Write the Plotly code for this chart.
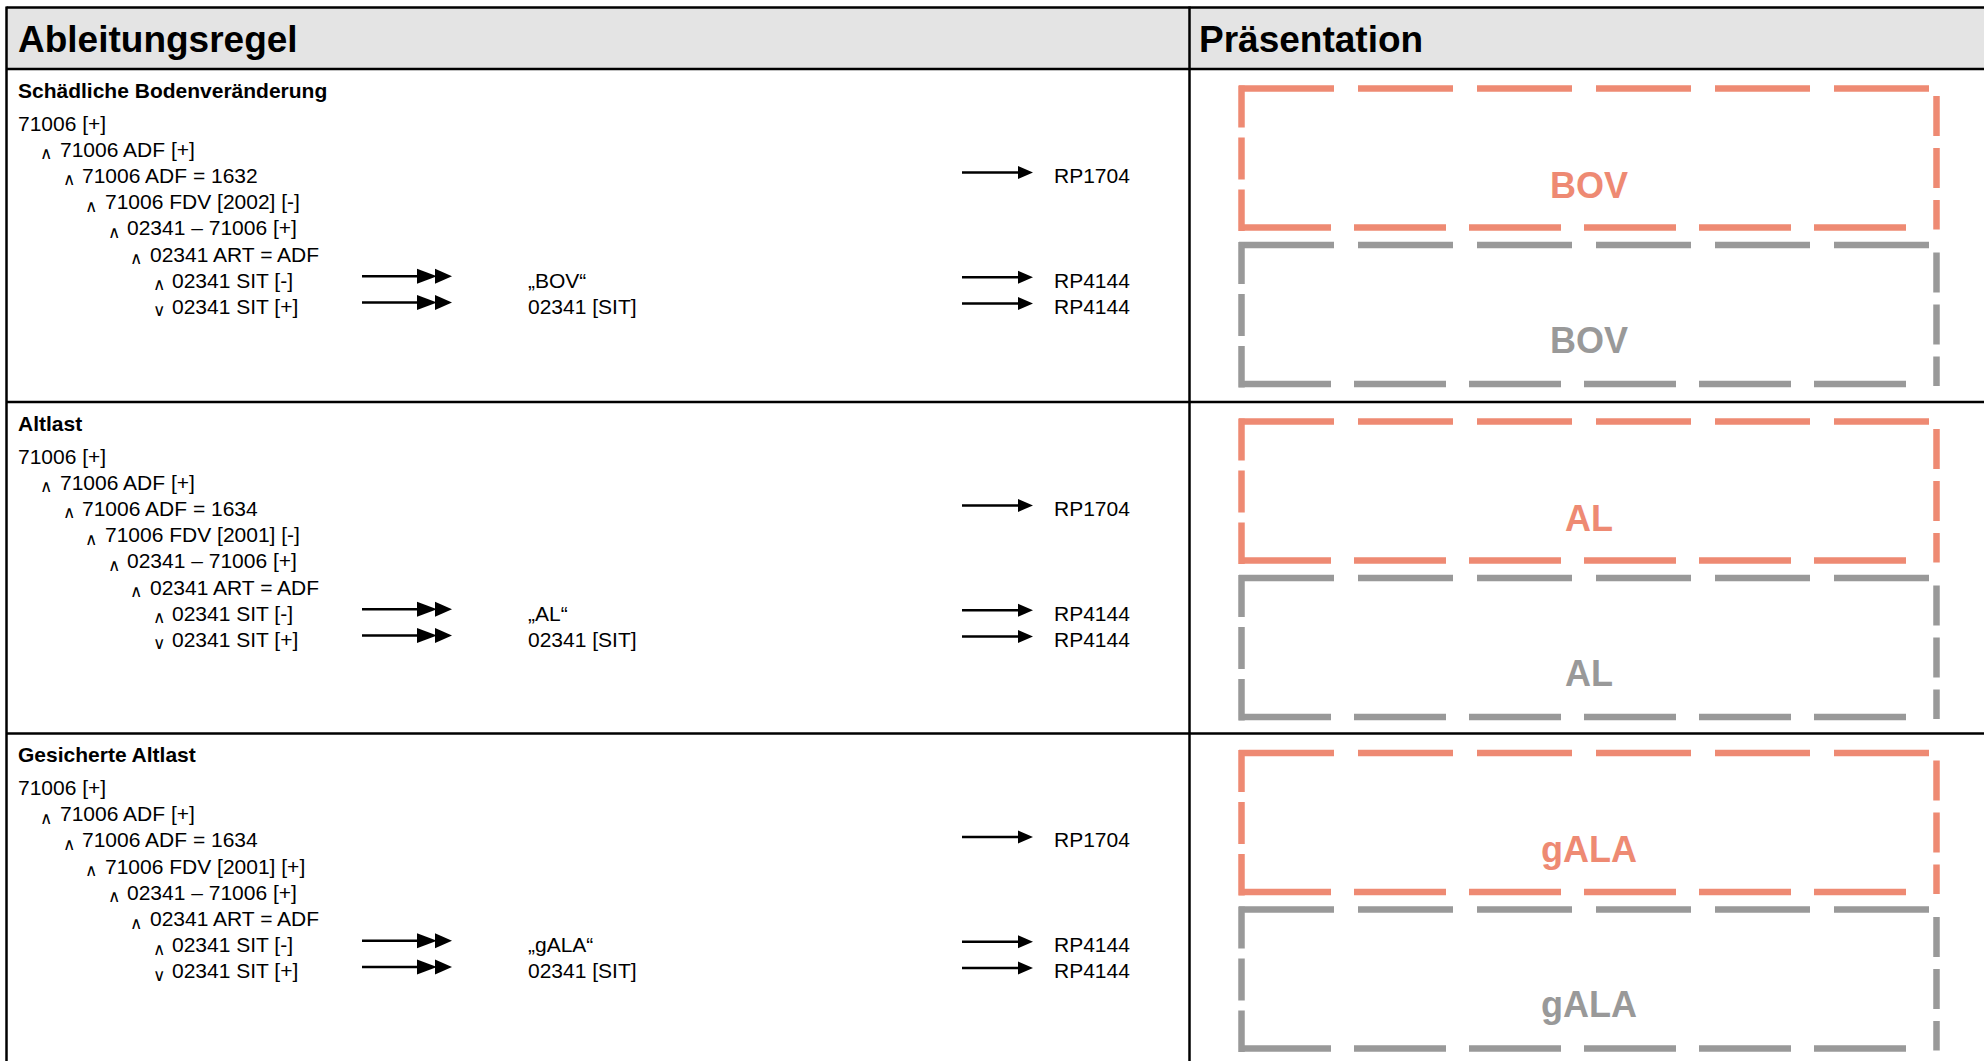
import plotly.graph_objects as go

# ---------------- data ----------------
section_titles = ["Schädliche Bodenveränderung", "Altlast", "Gesicherte Altlast"]
adf_values = ["1632", "1634", "1634"]
fdv_years = ["2002", "2001", "2001"]
fdv_flags = ["[-]", "[-]", "[+]"]
labels = ["BOV", "AL", "gALA"]

rule_levels = [0, 1, 2, 3, 4, 5, 6, 6]
rule_ops = ["", "∧", "∧", "∧", "∧", "∧", "∧", "∨"]
rule_templates = [
    "71006 [+]",
    "71006 ADF [+]",
    "71006 ADF = {adf}",
    "71006 FDV [{year}] {flag}",
    "02341 – 71006 [+]",
    "02341 ART = ADF",
    "02341 SIT [-]",
    "02341 SIT [+]",
]
rp_rows = [2, 6, 7]
rp_targets = ["RP1704", "RP4144", "RP4144"]
out_rows = [6, 7]
out_templates = ["„{label}“", "02341 [SIT]"]

header_left = "Ableitungsregel"
header_right = "Präsentation"

# ---------------- layout constants ----------------
W, H = 1984, 1061
FONT = "Liberation Sans, Arial, Helvetica, sans-serif"
ORANGE = "#EE8A73"
GRAY = "#999999"
LINE = "#000000"

x_left = 6.5
y_top = 7.5
y_head = 69
col_x = 1189.5
section_starts = [69, 402, 733.5]

title_off = 21
row0_off = 54
row_step = 26.2

x_text0 = 15.5
x_op1 = 38
op_gap = 19.5
indent = 22.5

fig = go.Figure()
shapes = []
ann = []

shapes.append(dict(type="rect", x0=x_left, x1=W + 5, y0=y_top, y1=y_head,
                   fillcolor="#E4E4E4", line=dict(width=0), layer="below"))


def hline(y, x0=x_left, x1=W + 5, w=2.5, color=LINE):
    shapes.append(dict(type="line", x0=x0, x1=x1, y0=y, y1=y, line=dict(color=color, width=w)))


def vline(x, y0, y1, w=2.5, color=LINE):
    shapes.append(dict(type="line", x0=x, x1=x, y0=y0, y1=y1, line=dict(color=color, width=w)))


hline(y_top)
hline(y_head)
for s in section_starts[1:]:
    hline(s)
vline(x_left, y_top - 1, H + 5)
vline(col_x, y_top - 1, H + 5)

ann.append(dict(x=x_text0, y=39, text=f"<b>{header_left}</b>", xanchor="left", yanchor="middle",
                showarrow=False, font=dict(family=FONT, size=37, color="black")))
ann.append(dict(x=1197, y=39, text=f"<b>{header_right}</b>", xanchor="left", yanchor="middle",
                showarrow=False, font=dict(family=FONT, size=37, color="black")))


def tri(x_base, x_tip, yc, half):
    return f"M {x_base},{yc - half} L {x_tip},{yc} L {x_base},{yc + half} Z"


def dashed_box(x0, x1, y0, y1, color):
    lw = 6.5
    shapes.append(dict(type="line", x0=x0 - 2.5, x1=x1 - 6.5, y0=y0, y1=y0,
                       line=dict(color=color, width=lw, dash="95px,24px")))
    shapes.append(dict(type="line", x0=x0 - 2.5, x1=x1 - 30, y0=y1, y1=y1,
                       line=dict(color=color, width=lw, dash="92px,23px")))
    shapes.append(dict(type="line", x0=x0, x1=x0, y0=y0 - 3, y1=y1 + 3.5,
                       line=dict(color=color, width=lw, dash="42px,10px")))
    shapes.append(dict(type="line", x0=x1, x1=x1, y0=y0 + 7.5, y1=y1 + 2,
                       line=dict(color=color, width=lw, dash="40px,12px")))


for i, s in enumerate(section_starts):
    ann.append(dict(x=x_text0, y=s + title_off, text=f"<b>{section_titles[i]}</b>",
                    xanchor="left", yanchor="middle", showarrow=False,
                    font=dict(family=FONT, size=21, color="black")))
    for r, (lvl, op, tpl) in enumerate(zip(rule_levels, rule_ops, rule_templates)):
        y = s + row0_off + r * row_step
        txt = tpl.format(adf=adf_values[i], year=fdv_years[i], flag=fdv_flags[i])
        if lvl == 0:
            x = x_text0
        else:
            xo = x_op1 + indent * (lvl - 1)
            ann.append(dict(x=xo, y=y + 4.5, text=op, xanchor="left", yanchor="middle", showarrow=False,
                            font=dict(family=FONT, size=17, color="black")))
            x = xo + op_gap
        ann.append(dict(x=x, y=y, text=txt, xanchor="left", yanchor="middle", showarrow=False,
                        font=dict(family=FONT, size=21, color="black")))
    for r, tpl in zip(out_rows, out_templates):
        y = s + row0_off + r * row_step
        ya = y - 4
        shapes.append(dict(type="line", x0=362, x1=420, y0=ya, y1=ya, line=dict(color="black", width=2.5)))
        shapes.append(dict(type="path", path=tri(417, 437, ya, 7.5), fillcolor="black", line=dict(width=0)))
        shapes.append(dict(type="path", path=tri(435, 452, ya, 7.5), fillcolor="black", line=dict(width=0)))
        ann.append(dict(x=525.5, y=y, text=tpl.format(label=labels[i]), xanchor="left", yanchor="middle",
                        showarrow=False, font=dict(family=FONT, size=21, color="black")))
    for r, rp in zip(rp_rows, rp_targets):
        y = s + row0_off + r * row_step
        ya = y - 3
        shapes.append(dict(type="line", x0=962, x1=1020, y0=ya, y1=ya, line=dict(color="black", width=2.5)))
        shapes.append(dict(type="path", path=tri(1018, 1033, ya, 6.5), fillcolor="black", line=dict(width=0)))
        ann.append(dict(x=1052, y=y, text=rp, xanchor="left", yanchor="middle",
                        showarrow=False, font=dict(family=FONT, size=21, color="black")))
    bx0, bx1 = 1241.5, 1936.5
    dashed_box(bx0, bx1, s + 19.5, s + 158.5, ORANGE)
    dashed_box(bx0, bx1, s + 176, s + 315, GRAY)
    ann.append(dict(x=(bx0 + bx1) / 2, y=s + 116, text=f"<b>{labels[i]}</b>", xanchor="center",
                    yanchor="middle", showarrow=False, font=dict(family=FONT, size=36, color=ORANGE)))
    ann.append(dict(x=(bx0 + bx1) / 2, y=s + 271, text=f"<b>{labels[i]}</b>", xanchor="center",
                    yanchor="middle", showarrow=False, font=dict(family=FONT, size=36, color=GRAY)))

fig.update_layout(
    width=W, height=H,
    margin=dict(l=0, r=0, t=0, b=0, pad=0),
    paper_bgcolor="white", plot_bgcolor="white",
    xaxis=dict(range=[0, W], visible=False, fixedrange=True),
    yaxis=dict(range=[H, 0], visible=False, fixedrange=True),
    shapes=shapes, annotations=ann, showlegend=False,
)

fig.write_html("out.html", config={"displayModeBar": False},
               post_script="document.body.style.margin='0';document.body.style.overflow='hidden';")
